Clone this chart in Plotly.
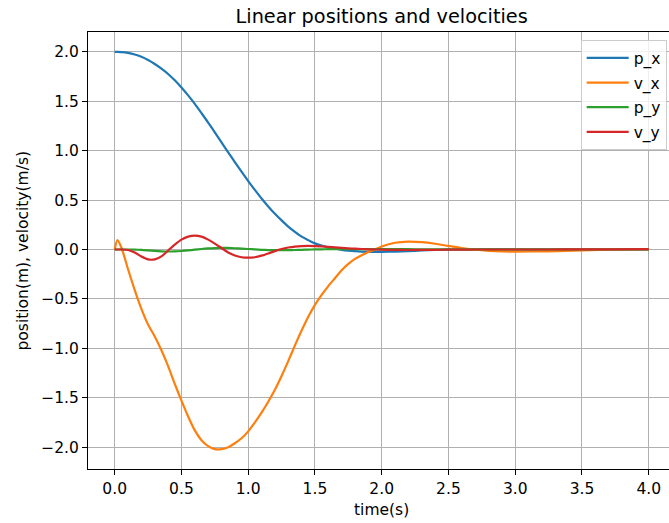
import plotly.graph_objects as go

# Sample times (s)
t = [0.0, 0.02, 0.05, 0.1, 0.15, 0.2, 0.25, 0.3, 0.35, 0.4, 0.45, 0.5, 0.55, 0.6, 0.65,
     0.7, 0.75, 0.8, 0.85, 0.9, 0.95, 1.0, 1.05, 1.1, 1.15, 1.2, 1.25, 1.3, 1.35, 1.4,
     1.45, 1.5, 1.55, 1.6, 1.65, 1.7, 1.75, 1.8, 1.85, 1.9, 1.95, 2.0, 2.1, 2.2, 2.3,
     2.4, 2.5, 2.6, 2.7, 2.8, 2.9, 3.0, 3.25, 3.5, 3.75, 4.0]

p_x = [2.000, 2.000, 1.998, 1.990, 1.974, 1.950, 1.917, 1.877, 1.830, 1.776, 1.712, 1.640,
       1.560, 1.474, 1.380, 1.285, 1.185, 1.085, 0.984, 0.884, 0.787, 0.692, 0.603, 0.516,
       0.436, 0.362, 0.295, 0.232, 0.178, 0.130, 0.095, 0.062, 0.040, 0.022, 0.008, -0.003,
       -0.011, -0.017, -0.021, -0.023, -0.024, -0.024, -0.021, -0.016, -0.010, -0.005,
       -0.001, 0.001, 0.002, 0.002, 0.001, 0.000, -0.001, -0.001, 0.000, 0.000]

v_x = [0.000, 0.095, 0.020, -0.200, -0.410, -0.600, -0.760, -0.880, -1.020, -1.180, -1.360,
       -1.530, -1.690, -1.830, -1.930, -1.990, -2.020, -2.020, -2.000, -1.960, -1.910, -1.840,
       -1.750, -1.650, -1.540, -1.420, -1.280, -1.130, -0.970, -0.820, -0.680, -0.560, -0.460,
       -0.370, -0.290, -0.210, -0.145, -0.095, -0.058, -0.025, 0.000, 0.030, 0.068, 0.080,
       0.074, 0.058, 0.036, 0.015, -0.002, -0.013, -0.019, -0.021, -0.018, -0.008, 0.000,
       0.004]

p_y = [0.000, 0.000, 0.000, 0.000, -0.001, -0.004, -0.009, -0.014, -0.018, -0.020, -0.019,
       -0.015, -0.009, -0.002, 0.005, 0.011, 0.015, 0.016, 0.016, 0.013, 0.009, 0.005, 0.001,
       -0.003, -0.006, -0.007, -0.007, -0.006, -0.005, -0.003, -0.001, 0.001, 0.002, 0.003,
       0.003, 0.004, 0.004, 0.004, 0.004, 0.004, 0.004, 0.004, 0.003, 0.003, 0.002, 0.002,
       0.001, 0.001, 0.001, 0.001, 0.001, 0.001, 0.001, 0.001, 0.002, 0.002]

v_y = [0.000, 0.000, 0.000, -0.005, -0.030, -0.070, -0.100, -0.100, -0.070, -0.010, 0.050,
       0.100, 0.130, 0.140, 0.130, 0.100, 0.060, 0.015, -0.030, -0.060, -0.078, -0.083,
       -0.078, -0.062, -0.040, -0.016, 0.005, 0.020, 0.030, 0.035, 0.036, 0.035, 0.031,
       0.026, 0.021, 0.016, 0.012, 0.008, 0.005, 0.002, 0.000, -0.002, -0.004, -0.005,
       -0.004, -0.003, -0.002, -0.001, 0.000, 0.000, 0.000, 0.000, 0.000, 0.001, 0.002,
       0.004]

names = ["p_x", "v_x", "p_y", "v_y"]
colors = ["#1f77b4", "#ff7f0e", "#2ca02c", "#d62728"]

x_ticks = [0.0, 0.5, 1.0, 1.5, 2.0, 2.5, 3.0, 3.5, 4.0]
y_ticks = [-2.0, -1.5, -1.0, -0.5, 0.0, 0.5, 1.0, 1.5, 2.0]


def fmt(v):
    s = f"{abs(v):.1f}"
    return ("\u2212" + s) if v < 0 else s


FONT = "DejaVu Sans"

fig = go.Figure()
for name, col, ys in zip(names, colors, [p_x, v_x, p_y, v_y]):
    fig.add_trace(go.Scatter(x=t, y=ys, mode="lines", name=name, legendgroup=name,
                             line=dict(color=col, width=2.2, shape="spline",
                                       smoothing=0.7)))

axis_common = dict(
    showline=True, linecolor="black", linewidth=1.1,
    showgrid=True, gridcolor="#b0b0b0", gridwidth=1.1,
    ticks="outside", ticklen=5, tickwidth=1.1, tickcolor="black",
    tickfont=dict(family=FONT, size=15.5, color="black"),
    zeroline=False,
)

fig.update_xaxes(range=[-0.2, 4.152], tickvals=x_ticks,
                 ticktext=[fmt(v) for v in x_ticks], mirror=True, **axis_common)
fig.update_yaxes(range=[-2.221, 2.201], tickvals=y_ticks,
                 ticktext=[fmt(v) for v in y_ticks], **axis_common)

fig.update_layout(
    width=669, height=523,
    margin=dict(l=88, r=0, t=32, b=54),
    paper_bgcolor="white", plot_bgcolor="white",
    font=dict(family=FONT, color="black"),
    title=dict(text="Linear positions and velocities", x=0.5705, xref="container",
               xanchor="center", y=1 - 16 / 523, yref="container", yanchor="middle",
               font=dict(family=FONT, size=19.3, color="black")),
    legend=dict(x=0.996, y=0.981, xanchor="right", yanchor="top",
                bgcolor="rgba(255,255,255,0.8)", bordercolor="#cccccc", borderwidth=1,
                font=dict(family=FONT, size=15.5, color="black"),
                itemwidth=42, tracegroupgap=1.5),
    showlegend=True,
    annotations=[
        dict(text="time(s)", x=0.505, y=-0.0934, xref="paper", yref="paper",
             xanchor="center", yanchor="middle", showarrow=False,
             font=dict(family=FONT, size=15.5, color="black")),
        dict(text="position(m), velocity(m/s)", x=(22 - 88) / 581, y=0.5,
             xref="paper", yref="paper", showarrow=False, textangle=-90,
             xanchor="center", yanchor="middle",
             font=dict(family=FONT, size=15.5, color="black")),
    ],
)

fig.write_html("out.html")
